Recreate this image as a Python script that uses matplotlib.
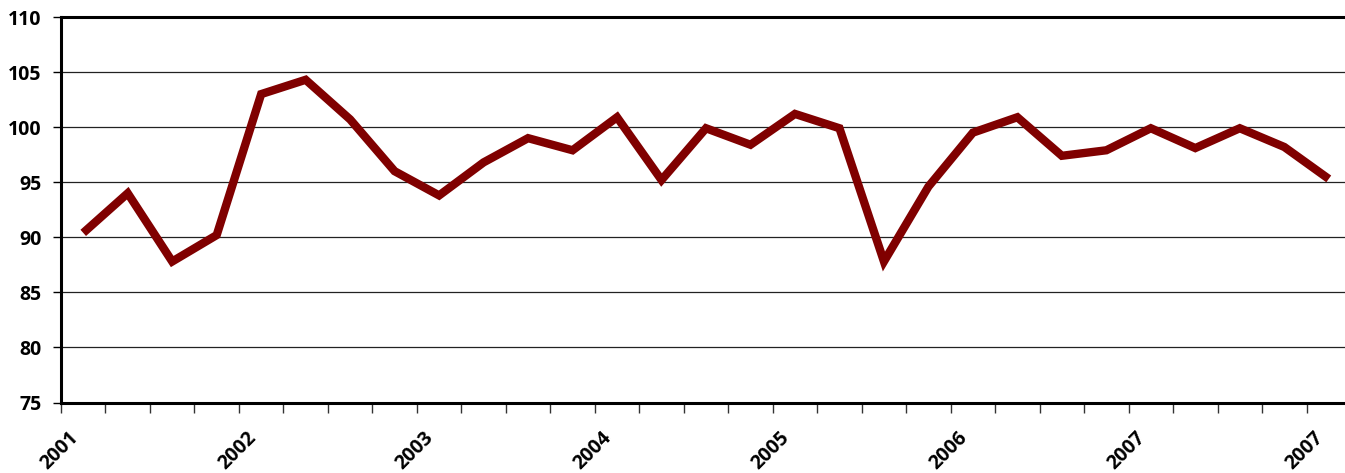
import matplotlib
matplotlib.use("Agg")
import matplotlib.pyplot as plt
import matplotlib.transforms as mtransforms
import numpy as np

# quarterly index values, 29 quarters
values = [90.4, 94.0, 87.8, 90.2, 103.0, 104.3, 100.7, 96.0, 93.8, 96.8,
          99.0, 97.9, 100.9, 95.2, 99.9, 98.4, 101.2, 99.9, 87.8, 94.6,
          99.5, 100.9, 97.4, 97.9, 99.9, 98.1, 99.9, 98.2, 95.3]
year_labels = ["2001", "2002", "2003", "2004", "2005", "2006", "2007", "2007"]
y_ticks = [75, 80, 85, 90, 95, 100, 105, 110]

LINE_COLOR = "#800000"
FONT = "Open Sans"
FS = 14

W, H = 1345, 473
fig = plt.figure(figsize=(W / 100, H / 100), dpi=100)
# axes spans slightly past the right edge (reference is cropped there)
left, right, top, bottom = 61, 1351, 17, 402.5
ax = fig.add_axes([left / W, (H - bottom) / H, (right - left) / W, (bottom - top) / H])

x = np.arange(len(values))
ax.plot(x, values, color=LINE_COLOR, linewidth=6, solid_joinstyle="miter",
        solid_capstyle="butt", zorder=3)

ax.set_xlim(-0.5, len(values) - 0.5)
ax.set_ylim(75, 110)

ax.set_yticks(y_ticks)
ax.set_yticklabels([str(v) for v in y_ticks], fontname=FONT, fontweight="bold", fontsize=FS)
ax.grid(axis="y", color="#222222", linewidth=0.9, zorder=0)

# category boundaries as ticks, year labels every 4 quarters
bounds = np.arange(len(values)) - 0.5
ax.set_xticks(bounds)
ax.set_xticklabels([])
ax.tick_params(axis="x", direction="out", length=7, width=1, color="#333333")
ax.tick_params(axis="y", direction="out", length=6, width=1, pad=8)

offset = mtransforms.ScaledTranslation(14 / 100, -32 / 100, fig.dpi_scale_trans)
for i, lab in enumerate(year_labels):
    ax.text(bounds[i * 4], 75, lab, rotation=45, ha="right", va="center",
            rotation_mode="anchor", fontname=FONT, fontweight="bold", fontsize=FS,
            transform=ax.transData + offset, clip_on=False)

for side in ["left", "bottom", "top"]:
    ax.spines[side].set_linewidth(2.2)
    ax.spines[side].set_color("black")
ax.spines["right"].set_visible(False)

fig.savefig("out.png", dpi=100)
